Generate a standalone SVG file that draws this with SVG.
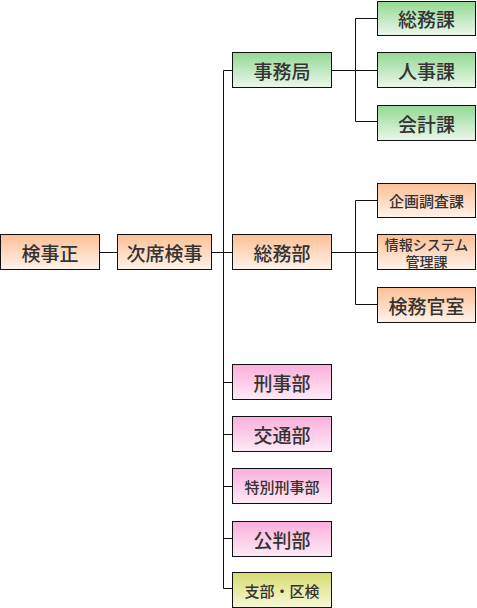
<svg xmlns="http://www.w3.org/2000/svg" width="477" height="608" viewBox="0 0 477 608">
<defs>
<linearGradient id="gO" x1="0" y1="0" x2="0" y2="1"><stop offset="0" stop-color="#fcbf95"/><stop offset="1" stop-color="#fff3ea"/></linearGradient>
<linearGradient id="gG" x1="0" y1="0" x2="0" y2="1"><stop offset="0" stop-color="#93d893"/><stop offset="1" stop-color="#ebf7eb"/></linearGradient>
<linearGradient id="gP" x1="0" y1="0" x2="0" y2="1"><stop offset="0" stop-color="#fbaedb"/><stop offset="1" stop-color="#fdebf6"/></linearGradient>
<linearGradient id="gY" x1="0" y1="0" x2="0" y2="1"><stop offset="0" stop-color="#d5db70"/><stop offset="1" stop-color="#f8f8d8"/></linearGradient>
</defs>
<style>
rect{stroke:#111;stroke-width:1}
.o{fill:url(#gO)}.g{fill:url(#gG)}.p{fill:url(#gP)}.y{fill:url(#gY)}
text{font-family:"Noto Sans CJK JP","Noto Sans CJK SC",sans-serif;fill:#333;text-anchor:middle;dominant-baseline:central;font-weight:500}
.L{font-size:19px}.S{font-size:15px}.T{font-size:14px}
#connectors path{fill:none;stroke:#111;stroke-width:1}
</style>
<g id="connectors">
<path d="M100 252.5H117.5"/>
<path d="M212 252.5H232"/>
<path d="M223.5 70.5V588.5H232"/>
<path d="M223.5 70.5H232"/>
<path d="M223.5 382.5H232M223.5 434.5H232M223.5 486.5H232M223.5 538.5H232"/>
<path d="M332 70.5H377"/>
<path d="M377 18.5H355.5V121.5H377"/>
<path d="M332 252.5H377"/>
<path d="M377 200.5H355.5V304.5H377"/>
</g>
<g id="n-kenjisei"><rect class="o" x="0.5" y="234.5" width="99" height="35"/><text class="L" x="50" y="252">検事正</text></g>
<g id="n-jiseki"><rect class="o" x="117.5" y="234.5" width="94" height="35"/><text class="L" x="164.5" y="252">次席検事</text></g>
<g id="n-jimukyoku"><rect class="g" x="232.5" y="52.5" width="99" height="35"/><text class="L" x="282" y="70">事務局</text></g>
<g id="n-somuka"><rect class="g" x="377.5" y="1.5" width="98" height="34"/><text class="L" x="426.5" y="18.5">総務課</text></g>
<g id="n-jinjika"><rect class="g" x="377.5" y="52.5" width="98" height="35"/><text class="L" x="426.5" y="70">人事課</text></g>
<g id="n-kaikeika"><rect class="g" x="377.5" y="105.5" width="98" height="35"/><text class="L" x="426.5" y="123">会計課</text></g>
<g id="n-somubu"><rect class="o" x="232.5" y="234.5" width="99" height="35"/><text class="L" x="282" y="252">総務部</text></g>
<g id="n-kikaku"><rect class="o" x="377.5" y="183.5" width="98" height="34"/><text class="S" x="426.5" y="200.5">企画調査課</text></g>
<g id="n-joho"><rect class="o" x="377.5" y="234.5" width="98" height="35"/><text class="T"><tspan x="426.5" y="244">情報システム</tspan><tspan x="426.5" y="260.5">管理課</tspan></text></g>
<g id="n-kenmu"><rect class="o" x="377.5" y="287.5" width="98" height="35"/><text class="L" x="426.5" y="305">検務官室</text></g>
<g id="n-keiji"><rect class="p" x="232.5" y="364.5" width="99" height="35"/><text class="L" x="282" y="382">刑事部</text></g>
<g id="n-kotsu"><rect class="p" x="232.5" y="416.5" width="99" height="35"/><text class="L" x="282" y="434">交通部</text></g>
<g id="n-tokubetsu"><rect class="p" x="232.5" y="468.5" width="99" height="35"/><text class="S" x="282" y="486">特別刑事部</text></g>
<g id="n-kohan"><rect class="p" x="232.5" y="521.5" width="99" height="35"/><text class="L" x="282" y="539">公判部</text></g>
<g id="n-shibu"><rect class="y" x="232.5" y="572.5" width="99" height="35"/><text class="S" x="282" y="590">支部・区検</text></g>
</svg>
